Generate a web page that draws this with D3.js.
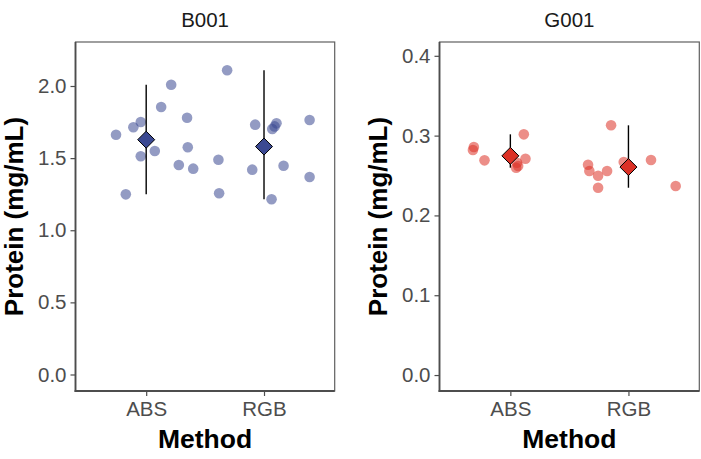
<!DOCTYPE html>
<html><head><meta charset="utf-8">
<script src="https://cdn.jsdelivr.net/npm/d3@7"></script>
<style>
body{margin:0;background:#fff;}
svg{display:block;font-family:"Liberation Sans",Arial,sans-serif;}
</style></head>
<body><svg id="c" width="701" height="459"></svg>
<script>
const methods = ["ABS", "RGB"];
const panelTitles = ["B001", "G001"];
const yTitle = "Protein (mg/mL)";
const xTitle = "Method";

// B001 panel (jitter offsets in method units)
const b001AbsVals = [1.662, 1.249, 1.714, 1.750, 1.513, 1.549, 1.854, 2.009, 1.452, 1.780, 1.575, 1.427];
const b001AbsJit  = [-0.256, -0.173, -0.109, -0.046, -0.046, 0.073, 0.127, 0.212, 0.277, 0.347, 0.353, 0.399];
const b001RgbVals = [1.489, 1.256, 2.109, 1.420, 1.732, 1.215, 1.702, 1.720, 1.741, 1.447, 1.764, 1.369];
const b001RgbJit  = [-0.387, -0.381, -0.313, -0.100, -0.075, 0.064, 0.070, 0.090, 0.106, 0.166, 0.387, 0.387];

// G001 panel
const g001AbsVals = [0.282, 0.2857, 0.269, 0.2598, 0.266, 0.2619, 0.3016, 0.271];
const g001AbsJit  = [-0.317, -0.309, -0.219, 0.049, 0.056, 0.066, 0.114, 0.128];
const g001RgbVals = [0.2635, 0.2556, 0.2498, 0.2347, 0.2556, 0.3129, 0.2669, 0.2694, 0.2368];
const g001RgbJit  = [-0.342, -0.331, -0.257, -0.257, -0.181, -0.147, -0.040, 0.191, 0.400];

const b001Ticks = [0.0, 0.5, 1.0, 1.5, 2.0];
const g001Ticks = [0.0, 0.1, 0.2, 0.3, 0.4];
const b001Domain = [-0.1144, 2.305];
const g001Domain = [-0.02, 0.4173];
const colors = ["#3B4992", "#DC3126"];

const panels = [
  {title: panelTitles[0], groups: [[b001AbsVals, b001AbsJit], [b001RgbVals, b001RgbJit]], ticks: b001Ticks, domain: b001Domain, color: colors[0],
   x0: 75.5, x1: 334.7, ytx: 23},
  {title: panelTitles[1], groups: [[g001AbsVals, g001AbsJit], [g001RgbVals, g001RgbJit]], ticks: g001Ticks, domain: g001Domain, color: colors[1],
   x0: 439.5, x1: 699.3, ytx: 386.5}
];
const pTop = 42, pBottom = 391;
const svg = d3.select("#c");

panels.forEach(p => {
  const g = svg.append("g");
  const x = d3.scaleLinear().domain([0.4, 2.6]).range([p.x0, p.x1]);
  const y = d3.scaleLinear().domain(p.domain).range([pBottom, pTop]);

  g.append("rect").attr("x", p.x0).attr("y", pTop).attr("width", p.x1 - p.x0).attr("height", pBottom - pTop)
    .attr("fill", "none").attr("stroke", "#5f5f5f").attr("stroke-width", 1.2);

  const ya = d3.axisLeft(y).tickValues(p.ticks).tickFormat(d3.format(".1f")).tickSize(5).tickPadding(4);
  const yg = g.append("g").attr("transform", `translate(${p.x0},0)`).call(ya);
  const xa = d3.axisBottom(x).tickValues([1, 2]).tickFormat((d) => methods[d - 1]).tickSize(5).tickPadding(5);
  const xg = g.append("g").attr("transform", `translate(0,${pBottom})`).call(xa);
  [yg, xg].forEach(ax => {
    ax.select(".domain").remove();
    ax.selectAll(".tick line").attr("stroke", "#4d4d4d").attr("stroke-width", 1.2);
    ax.selectAll(".tick text").attr("fill", "#4d4d4d").style("font-size", "20.5px").style("font-family", '"Liberation Sans",Arial,sans-serif');
  });
  g.append("line").attr("x1", p.x0).attr("x2", p.x0).attr("y1", pTop).attr("y2", pBottom + 0.9)
    .attr("stroke", "#4d4d4d").attr("stroke-width", 1.8);
  g.append("line").attr("x1", p.x0 - 0.9).attr("x2", p.x1).attr("y1", pBottom).attr("y2", pBottom)
    .attr("stroke", "#4d4d4d").attr("stroke-width", 1.8);

  p.groups.forEach((grp, i) => {
    const [vals, jit] = grp;
    g.selectAll(null).data(vals.map((v, k) => ({v, j: jit[k]}))).enter().append("circle")
      .attr("cx", d => x(i + 1 + d.j)).attr("cy", d => y(d.v)).attr("r", 5.3)
      .attr("fill", p.color).attr("fill-opacity", 0.55);
  });
  p.groups.forEach((grp, i) => {
    const [vals] = grp;
    const ext = d3.extent(vals), m = d3.mean(vals);
    g.append("line").attr("x1", x(i + 1)).attr("x2", x(i + 1)).attr("y1", y(ext[0])).attr("y2", y(ext[1]))
      .attr("stroke", "#000").attr("stroke-width", 1.4);
    const cx = x(i + 1), cy = y(m), s = 8.5;
    g.append("path").attr("d", `M${cx},${cy - s}L${cx + s},${cy}L${cx},${cy + s}L${cx - s},${cy}Z`)
      .attr("fill", p.color).attr("stroke", "#000").attr("stroke-width", 1);
  });

  g.append("text").attr("x", (p.x0 + p.x1) / 2).attr("y", 27).attr("text-anchor", "middle")
    .attr("fill", "#1a1a1a").style("font-size", "20.5px").text(p.title);
  g.append("text").attr("x", (p.x0 + p.x1) / 2).attr("y", 448).attr("text-anchor", "middle")
    .attr("fill", "#000").style("font-size", "26.5px").style("font-weight", "bold").text(xTitle);
  g.append("text").attr("transform", `translate(${p.ytx},${(pTop + pBottom) / 2}) rotate(-90)`).attr("text-anchor", "middle")
    .attr("fill", "#000").style("font-size", "26px").style("font-weight", "bold").text(yTitle);
});
</script></body></html>
